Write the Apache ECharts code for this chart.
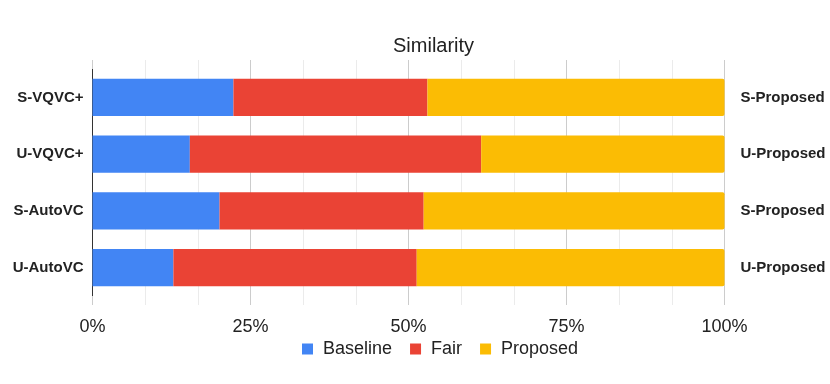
<!DOCTYPE html>
<html>
<head>
<meta charset="utf-8">
<script src="https://cdn.jsdelivr.net/npm/echarts@6/dist/echarts.min.js"></script>
<style>html,body{margin:0;padding:0;background:#fff}#c{width:830px;height:384px}</style>
</head>
<body>
<div id="c"></div>
<script>
const categories = ['S-VQVC+', 'U-VQVC+', 'S-AutoVC', 'U-AutoVC'];
const rightLabels = ['S-Proposed', 'U-Proposed', 'S-Proposed', 'U-Proposed'];
const seriesNames = ['Baseline', 'Fair', 'Proposed'];
const baseline = [22.3, 15.4, 20.1, 12.8];
const fair = [30.7, 46.1, 32.3, 38.5];
const proposed = [47.0, 38.5, 47.6, 48.7];
const xTickValues = [0, 25, 50, 75, 100];

const colors = ['#4285F4', '#EA4335', '#FBBC04'];
const FONT = "'Liberation Sans', Arial, sans-serif";

const chart = echarts.init(document.getElementById('c'), null, {renderer: 'canvas'});

function xAxisDef(pos, showLabels) {
  return {
    type: 'value', position: pos,
    min: xTickValues[0], max: xTickValues[xTickValues.length - 1],
    interval: xTickValues[1] - xTickValues[0],
    axisLine: {show: false},
    axisTick: {show: true, length: 9, lineStyle: {color: '#cccccc'}},
    minorTick: {show: true, splitNumber: 3, length: 9, lineStyle: {color: '#ebebeb'}},
    splitLine: {show: true, lineStyle: {color: '#cccccc'}},
    minorSplitLine: {show: true, lineStyle: {color: '#ebebeb'}},
    axisLabel: {show: showLabels, formatter: '{value}%', fontSize: 18, color: '#222', fontFamily: FONT, margin: 22}
  };
}

const data = [baseline, fair, proposed];

chart.setOption({
  animation: false,
  color: colors,
  title: {
    text: 'Similarity', left: 388, top: 31,
    textStyle: {fontSize: 20, fontWeight: 'normal', color: '#222', fontFamily: FONT}
  },
  legend: {
    data: seriesNames, bottom: 21, left: 297,
    icon: 'rect', itemWidth: 11, itemHeight: 11, itemGap: 18,
    textStyle: {fontSize: 18, color: '#222', fontFamily: FONT, padding: [0, 0, 0, 5]}
  },
  grid: {left: 92.5, right: 105.5, top: 69, bottom: 88, containLabel: false},
  xAxis: [xAxisDef('bottom', true), xAxisDef('top', false)],
  yAxis: [
    {
      type: 'category', data: categories, inverse: true, position: 'left',
      axisLine: {show: true, lineStyle: {color: '#333', width: 1}},
      axisTick: {show: false},
      axisLabel: {fontSize: 15, fontWeight: 'bold', color: '#222', fontFamily: FONT, margin: 9}
    },
    {
      type: 'category', data: rightLabels, inverse: true, position: 'right',
      axisLine: {show: false}, axisTick: {show: false},
      axisLabel: {fontSize: 15, fontWeight: 'bold', color: '#222', fontFamily: FONT, margin: 16}
    }
  ],
  series: seriesNames.map((name, i) => ({
    name, type: 'bar', stack: 'total', data: data[i],
    xAxisIndex: 0, yAxisIndex: 0,
    barCategoryGap: '34%',
    itemStyle: {color: colors[i], borderRadius: i === 2 ? [0, 2, 2, 0] : 0}
  }))
});
</script>
</body>
</html>
